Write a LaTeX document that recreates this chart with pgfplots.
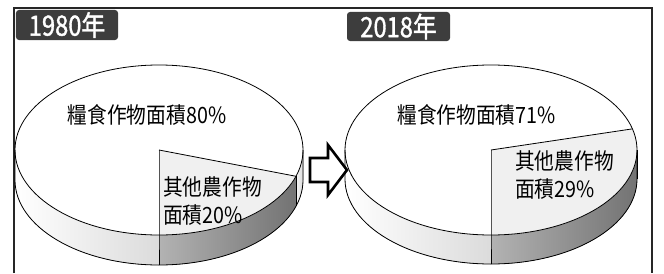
\documentclass[border=0pt]{standalone}
\usepackage{pgfplots}
\pgfplotsset{compat=1.18}
\usepackage{pgfplotstable}
\usepackage{fontspec}
\setmainfont{Noto Sans CJK TC}[FakeStretch=0.88]
\newfontfamily\titlefont{Noto Sans CJK TC}[FakeStretch=0.85,FakeBold=1.3]

\pgfplotstableread{
share
80
20
}\pieA
\pgfplotstableread{
share
71
29
}\pieB

\newcommand{\pieThreeD}[6]{%
% main side (left front)
\fill[left color=white,right color=black!14] (axis cs:{#1-#3},#2) arc[start angle=180,end angle=270,x radius=#3bp,y radius=#4bp] -- ++(0,-#5bp) arc[start angle=270,end angle=180,x radius=#3bp,y radius=#4bp] -- cycle;
% minor side
\fill[left color=black!30,right color=black!55] (axis cs:#1,{#2-#4}) arc[start angle=270,end angle={min(360,360+#6)},x radius=#3bp,y radius=#4bp] -- ++(0,-#5bp) arc[start angle={min(360,360+#6)},end angle=270,x radius=#3bp,y radius=#4bp] -- cycle;
% main side (right front)
\fill[left color=black!4,right color=black!14] (axis cs:{#1+#3*cos(min(360,360+#6))},{#2+#4*sin(min(360,360+#6))}) arc[start angle={min(360,360+#6)},end angle=360,x radius=#3bp,y radius=#4bp] -- ++(0,-#5bp) arc[start angle=360,end angle={min(360,360+#6)},x radius=#3bp,y radius=#4bp] -- cycle;
% top
\fill[white] (axis cs:#1,#2) ellipse[x radius=#3bp,y radius=#4bp];
\fill[black!6] (axis cs:#1,#2) -- (axis cs:#1,{#2-#4}) arc[start angle=270,end angle={360+#6},x radius=#3bp,y radius=#4bp] -- cycle;
% outlines
\draw[line width=0.8bp] (axis cs:#1,#2) ellipse[x radius=#3bp,y radius=#4bp];
\draw[line width=0.8bp] (axis cs:{#1-#3},#2) -- ++(0,-#5bp) arc[start angle=180,end angle=360,x radius=#3bp,y radius=#4bp] -- ++(0,#5bp);
\draw[line width=0.8bp] (axis cs:#1,#2) -- (axis cs:#1,{#2-#4}) -- ++(0,-#5bp);
\draw[line width=0.8bp] (axis cs:#1,#2) -- (axis cs:{#1+#3*cos(#6)},{#2+#4*sin(#6)});
\draw[line width=0.6bp] (axis cs:{#1+#3*cos(min(360,360+#6))},{#2+#4*sin(min(360,360+#6))}) -- ++(0,-#5bp);
}

\begin{document}
\begin{tikzpicture}
\pgfplotstablegetelem{1}{share}\of\pieA
\pgfmathsetmacro\endA{-90+3.6*\pgfplotsretval}
\pgfplotstablegetelem{1}{share}\of\pieB
\pgfmathsetmacro\endB{-90+3.6*\pgfplotsretval}
\pgfplotstablegetelem{0}{share}\of\pieA
\edef\mainA{\pgfplotsretval}
\pgfplotstablegetelem{1}{share}\of\pieA
\edef\minA{\pgfplotsretval}
\pgfplotstablegetelem{0}{share}\of\pieB
\edef\mainB{\pgfplotsretval}
\pgfplotstablegetelem{1}{share}\of\pieB
\edef\minB{\pgfplotsretval}
\begin{axis}[x=1bp,y=1bp,xmin=0,xmax=664,ymin=0,ymax=273,hide axis,clip=false]
\path (axis cs:0,0) rectangle (axis cs:664,273);
% frame
\draw[line width=1.6bp,black!85] (axis cs:14,0) -- (axis cs:14,265) -- (axis cs:652,265) -- (axis cs:652,0);
% pies
\pieThreeD{159}{123}{144}{85}{30}{\endA}
\pieThreeD{491}{123}{146}{85}{29}{\endB}
% arrow
\draw[line width=2.6bp,fill=white,line join=miter] (axis cs:310,115) -- (axis cs:328,115) -- (axis cs:328,128) -- (axis cs:347,103) -- (axis cs:328,78) -- (axis cs:328,91) -- (axis cs:310,91) -- cycle;
% titles
\node[fill=black!76,rounded corners=3bp,text=white,minimum width=102bp,minimum height=30bp,inner sep=0pt,font=\fontsize{28}{28}\titlefont] at (axis cs:67,248) {1980年};
\node[fill=black!76,rounded corners=3bp,text=white,minimum width=103bp,minimum height=29bp,inner sep=0pt,font=\fontsize{28}{28}\titlefont] at (axis cs:398.5,246.5) {2018年};
% labels
\node[font=\fontsize{22.5}{28}\selectfont,inner sep=0pt] at (axis cs:147,158) {糧食作物面積\mainA\%};
\node[font=\fontsize{22.5}{28}\selectfont,inner sep=0pt,anchor=west,align=left] at (axis cs:163,72) {其他農作物\\面積\minA\%};
\node[font=\fontsize{22.5}{28}\selectfont,inner sep=0pt] at (axis cs:476.5,158) {糧食作物面積\mainB\%};
\node[font=\fontsize{22.5}{28}\selectfont,inner sep=0pt,anchor=west,align=left] at (axis cs:515,98) {其他農作物\\面積\minB\%};
\end{axis}
\end{tikzpicture}
\end{document}
